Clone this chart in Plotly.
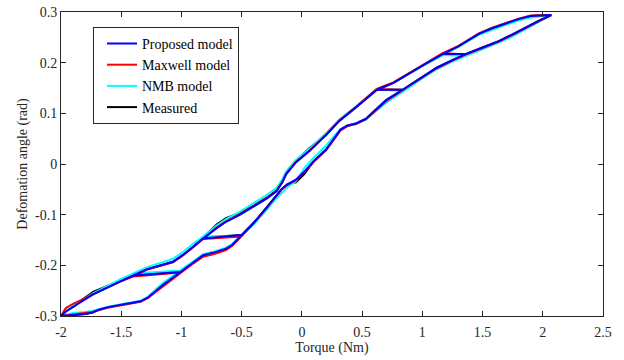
import plotly.graph_objects as go

# Torque input path (Nm): ascending branch, top reversal, descending branch with minor reversals
torque = [
    -2.00, -1.90, -1.80, -1.74, -1.68, -1.60, -1.50, -1.40, -1.34, -1.28,
    -1.22, -1.16, -1.07, -0.99, -0.90, -0.82, -0.72, -0.63, -0.58, -0.50,
    -0.40, -0.30, -0.22, -0.17, -0.12, -0.05, 0.02, 0.10, 0.20, 0.27,
    0.32, 0.38, 0.45, 0.53, 0.60, 0.70, 0.84, 0.98, 1.12, 1.25,
    1.36, 1.50, 1.64, 1.75, 1.86, 1.97, 2.07,
    1.90,
    1.80, 1.70, 1.58, 1.47, 1.39, 1.30, 1.17, 1.36, 1.17, 1.03,
    0.89, 0.76, 0.62, 0.84, 0.62, 0.45, 0.31, 0.20, 0.07, -0.05,
    -0.13, -0.16, -0.21, -0.29, -0.40, -0.52, -0.63, -0.71, -0.82, -0.50,
    -0.82, -0.90, -0.99, -1.07, -1.18, -1.29, -1.40, -1.01, -1.40, -1.51,
    -1.62, -1.73, -1.82, -1.90, -1.96, -2.00,
]

measured = [
    -0.300, -0.298, -0.296, -0.293, -0.287, -0.282, -0.278, -0.274, -0.271, -0.264,
    -0.252, -0.240, -0.224, -0.210, -0.193, -0.180, -0.174, -0.167, -0.160, -0.140,
    -0.116, -0.088, -0.064, -0.050, -0.040, -0.036, -0.020, 0.006, 0.028, 0.052,
    0.068, 0.076, 0.080, 0.089, 0.105, 0.126, 0.147, 0.169, 0.190, 0.205,
    0.217, 0.230, 0.243, 0.256, 0.270, 0.283, 0.294,
    0.292,
    0.286, 0.278, 0.268, 0.257, 0.245, 0.232, 0.217, 0.217, 0.217, 0.198,
    0.178, 0.160, 0.146, 0.147, 0.146, 0.112, 0.085, 0.057, 0.033, 0.006,
    -0.018, -0.033, -0.052, -0.066, -0.082, -0.097, -0.107, -0.120, -0.145, -0.140,
    -0.145, -0.163, -0.180, -0.193, -0.201, -0.208, -0.220, -0.213, -0.220, -0.231,
    -0.242, -0.252, -0.267, -0.282, -0.291, -0.300,
]

nmb_model = [
    -0.300, -0.294, -0.292, -0.290, -0.286, -0.281, -0.277, -0.273, -0.270, -0.262,
    -0.249, -0.236, -0.220, -0.207, -0.191, -0.178, -0.172, -0.165, -0.158, -0.142,
    -0.119, -0.093, -0.070, -0.057, -0.046, -0.034, -0.008, 0.013, 0.036, 0.056,
    0.068, 0.075, 0.080, 0.087, 0.101, 0.121, 0.143, 0.166, 0.187, 0.202,
    0.213, 0.226, 0.240, 0.252, 0.266, 0.280, 0.294,
    0.289,
    0.283, 0.275, 0.265, 0.255, 0.244, 0.231, 0.215, 0.213, 0.215, 0.197,
    0.178, 0.161, 0.147, 0.144, 0.147, 0.114, 0.088, 0.061, 0.032, 0.008,
    -0.014, -0.029, -0.047, -0.061, -0.077, -0.095, -0.109, -0.122, -0.143, -0.142,
    -0.143, -0.157, -0.174, -0.187, -0.196, -0.204, -0.216, -0.210, -0.216, -0.228,
    -0.241, -0.255, -0.268, -0.280, -0.289, -0.300,
]

maxwell_model = [
    -0.300, -0.297, -0.295, -0.292, -0.288, -0.283, -0.279, -0.275, -0.272, -0.265,
    -0.254, -0.242, -0.226, -0.212, -0.196, -0.183, -0.177, -0.170, -0.162, -0.142,
    -0.117, -0.089, -0.065, -0.051, -0.041, -0.032, -0.016, 0.005, 0.027, 0.050,
    0.066, 0.075, 0.079, 0.088, 0.103, 0.124, 0.146, 0.168, 0.189, 0.204,
    0.216, 0.229, 0.242, 0.255, 0.269, 0.282, 0.294,
    0.293,
    0.287, 0.279, 0.269, 0.258, 0.246, 0.233, 0.219, 0.216, 0.219, 0.199,
    0.179, 0.161, 0.148, 0.146, 0.148, 0.113, 0.086, 0.058, 0.028, 0.004,
    -0.019, -0.034, -0.053, -0.067, -0.083, -0.100, -0.113, -0.126, -0.148, -0.143,
    -0.148, -0.164, -0.181, -0.194, -0.202, -0.209, -0.222, -0.214, -0.222, -0.232,
    -0.244, -0.256, -0.266, -0.276, -0.284, -0.300,
]

proposed_model = [
    -0.300, -0.298, -0.296, -0.293, -0.287, -0.282, -0.278, -0.274, -0.271, -0.264,
    -0.252, -0.240, -0.224, -0.210, -0.193, -0.180, -0.174, -0.167, -0.160, -0.140,
    -0.116, -0.088, -0.064, -0.050, -0.040, -0.031, -0.015, 0.006, 0.028, 0.052,
    0.068, 0.076, 0.080, 0.089, 0.105, 0.126, 0.147, 0.169, 0.190, 0.205,
    0.217, 0.230, 0.243, 0.256, 0.270, 0.283, 0.294,
    0.292,
    0.286, 0.278, 0.268, 0.257, 0.245, 0.232, 0.217, 0.217, 0.217, 0.198,
    0.178, 0.160, 0.146, 0.147, 0.146, 0.112, 0.085, 0.057, 0.027, 0.003,
    -0.020, -0.035, -0.054, -0.068, -0.084, -0.101, -0.114, -0.127, -0.147, -0.140,
    -0.147, -0.163, -0.180, -0.193, -0.201, -0.208, -0.220, -0.213, -0.220, -0.232,
    -0.245, -0.257, -0.270, -0.282, -0.291, -0.300,
]

x_ticks = [-2, -1.5, -1, -0.5, 0, 0.5, 1, 1.5, 2, 2.5]
x_tick_labels = ["-2", "-1.5", "-1", "-0.5", "0", "0.5", "1", "1.5", "2", "2.5"]
y_ticks = [-0.3, -0.2, -0.1, 0, 0.1, 0.2, 0.3]
y_tick_labels = ["-0.3", "-0.2", "-0.1", "0", "0.1", "0.2", "0.3"]

FONT = "'Times New Roman', 'Liberation Serif', 'DejaVu Serif', serif"
TXT = "#262626"

fig = go.Figure()
# drawn bottom-to-top: Measured, NMB, Maxwell, Proposed; legend order via legendrank
series = [
    ("Measured", measured, "#000000", 4),
    ("NMB model", nmb_model, "#00FFFF", 3),
    ("Maxwell model", maxwell_model, "#FF0000", 2),
    ("Proposed model", proposed_model, "#0000FF", 1),
]
for name, ys, color, rank in series:
    fig.add_trace(go.Scatter(
        x=torque, y=ys, mode="lines", name=name,
        line=dict(color=color, width=2),
        legendrank=rank,
    ))

axis_common = dict(
    showline=True, linecolor=TXT, linewidth=1, mirror="ticks",
    ticks="inside", ticklen=5, tickcolor=TXT, tickwidth=1,
    showgrid=False, zeroline=False, automargin=False,
    tickfont=dict(family=FONT, size=14, color=TXT),
)

fig.update_layout(
    width=624, height=360,
    margin=dict(l=61, r=21, t=12, b=44),
    paper_bgcolor="white", plot_bgcolor="white",
    font=dict(family=FONT, size=14, color=TXT),
    xaxis=dict(range=[-2, 2.5], tickvals=x_ticks, ticktext=x_tick_labels,
               ticklabelstandoff=3,
               title=dict(text="Torque (Nm)", font=dict(family=FONT, size=14, color=TXT), standoff=3),
               **axis_common),
    yaxis=dict(range=[-0.3, 0.3], tickvals=y_ticks, ticktext=y_tick_labels,
               title=dict(text="Defomation angle (rad)", font=dict(family=FONT, size=14, color=TXT), standoff=4),
               **axis_common),
    legend=dict(
        x=0.059, y=0.951, xanchor="left", yanchor="top",
        bgcolor="white", bordercolor=TXT, borderwidth=1,
        indentation=8,
        font=dict(family=FONT, size=14, color="#000000"),
        tracegroupgap=0,
    ),
    showlegend=True,
)

fig.write_html("out.html", post_script="document.body.style.margin='0';",
               config={"displayModeBar": False})
